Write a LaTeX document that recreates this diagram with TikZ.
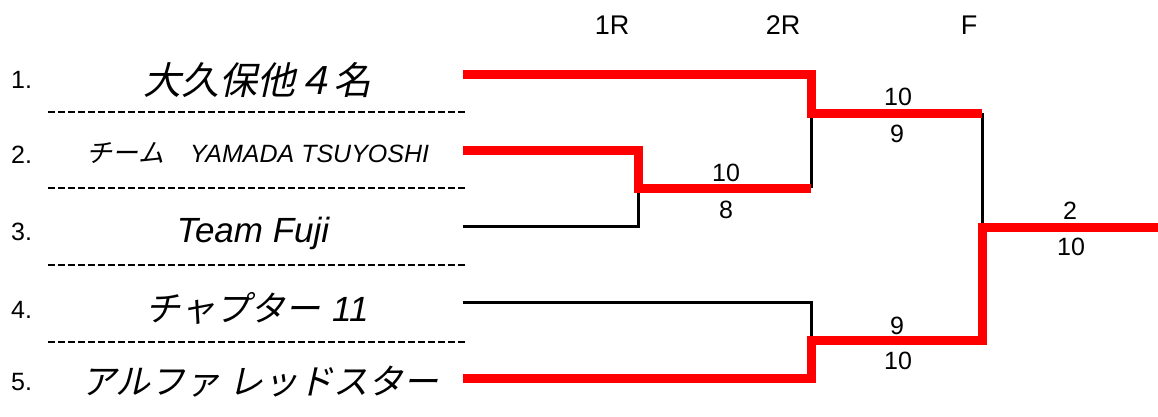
\documentclass[tikz,border=0pt]{standalone}
\usepackage{fontspec}
\setmainfont{Liberation Sans}
\newfontfamily\jpslant[FakeSlant=0.22]{Noto Sans CJK JP}
\usetikzlibrary{positioning}
\tikzset{
  win/.style={draw=red,line width=9pt},
  lose/.style={draw=black,line width=3pt},
  sep/.style={draw=black,line width=2.5pt,dash pattern=on 7pt off 3pt},
  score/.style={inner sep=0pt,font=\fontsize{25}{27}\selectfont},
  round/.style={inner sep=0pt,font=\fontsize{27}{29}\selectfont},
  seed/.style={inner sep=0pt,anchor=west,font=\fontsize{25}{27}\selectfont},
  team/.style={inner sep=0pt,font=\jpslant\fontsize{#1}{#1}\selectfont},
  teamlat/.style={inner sep=0pt,font=\itshape\fontsize{#1}{#1}\selectfont},
}
\newcommand{\latin}[2]{{\normalfont\itshape\fontsize{#1}{#1}\selectfont #2}}

\begin{document}
\begin{tikzpicture}[x=1pt,y=-1pt]
        \useasboundingbox (0,0) rectangle (1158,416);
        % rounds
        \node[round] (r1) at (612,25) {1R};
        \node[round] (r2) at (783,25) {2R};
        \node[round] (rf) at (969,25) {F};
        % teams
        \node[seed] (n1) at (11,80) {1.};
        \node[seed] (n2) at (11,155) {2.};
        \node[seed] (n3) at (11,232) {3.};
        \node[seed] (n4) at (11,310) {4.};
        \node[seed] (n5) at (11,382) {5.};
        \node[team=38] (a1) at (257,80) {大久保他４名};
        \node[team=26] (a2) at (258,153) {チーム　\latin{25}{YAMADA TSUYOSHI}};
        \node[teamlat=35] (a3) at (253,233) {Team Fuji};
        \node[team=35] (a4) at (257,309) {チャプター\hspace{12pt}\latin{35}{11}};
        \node[team=35] (a5) at (260,382) {アルファ レッドスター};
        \draw[sep] (48,112) -- (467,112);
        \draw[sep] (48,188) -- (467,188);
        \draw[sep] (48,265) -- (467,265);
        \draw[sep] (48,342) -- (467,342);
        % bracket
        \coordinate (t1) at (463,74);
        \coordinate (t2) at (463,150);
        \coordinate (t3) at (463,226);
        \coordinate (t4) at (463,302);
        \coordinate (t5) at (463,378);
        \coordinate (m1) at (638,188);
        \coordinate (m2) at (811,113);
        \coordinate (m3) at (811,340);
        \coordinate (m4) at (982,227);
        \coordinate (champ) at (1158,227);
        \draw[lose] (t3) -| (m1);
        \draw[lose] (m1 -| m2) -- (m2);
        \draw[lose] (t4) -| (m3);
        \draw[lose] (m2 -| m4) -- (m4);
        \draw[win] (t1) -| (m2) -- (m2 -| m4);
        \draw[win] (t2) -| (m1) -- (m1 -| m2);
        \draw[win] (t5) -| (m3) -- (m3 -| m4) -- (m4) -- (champ);
        % scores
        \node[score] (s1a) at (726,173) {10};
        \node[score] (s1b) at (726,210) {8};
        \node[score] (s2a) at (898,97) {10};
        \node[score] (s2b) at (897,134) {9};
        \node[score] (s3a) at (897,326) {9};
        \node[score] (s3b) at (898,361) {10};
        \node[score] (sfa) at (1070,211) {2};
        \node[score] (sfb) at (1071,247) {10};
\end{tikzpicture}
\end{document}
